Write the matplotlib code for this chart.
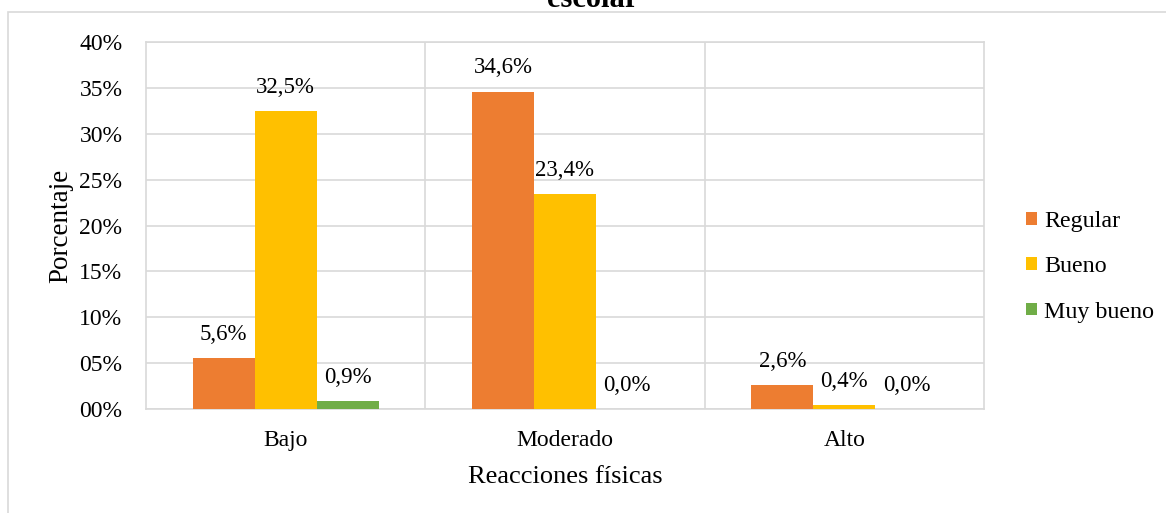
import matplotlib
matplotlib.use("Agg")
import matplotlib.pyplot as plt
from matplotlib.patches import Rectangle
import numpy as np

categories = ["Bajo", "Moderado", "Alto"]
series_names = ["Regular", "Bueno", "Muy bueno"]
regular = [5.6, 34.6, 2.6]
bueno = [32.5, 23.4, 0.4]
muy_bueno = [0.9, 0.0, 0.0]
colors = ["#ED7D31", "#FFC000", "#70AD47"]
ytick_vals = [0, 5, 10, 15, 20, 25, 30, 35, 40]
ytick_labels = ["00%", "05%", "10%", "15%", "20%", "25%", "30%", "35%", "40%"]

plt.rcParams['font.family'] = ['Liberation Serif', 'DejaVu Serif']

W, H = 1166, 513
fig = plt.figure(figsize=(W / 100, H / 100), dpi=100)
fig.patch.set_facecolor("white")

# outer chart border
fig.patches.append(Rectangle((8 / W, -0.1), 1.2, 1 - 12 / H + 0.1, transform=fig.transFigure,
                             fill=False, edgecolor="#d9d9d9", linewidth=1.2))

ax = fig.add_axes([146 / W, 1 - 409 / H, (984 - 146) / W, (409 - 42) / H])
x = np.arange(len(categories))
bw = 2 / 9
data = [regular, bueno, muy_bueno]
for i, (vals, name, c) in enumerate(zip(data, series_names, colors)):
    pos = x + (i - 1) * bw
    ax.bar(pos, vals, width=bw, color=c, label=name, zorder=3)
    for px, v in zip(pos, vals):
        ax.annotate(f"{v:.1f}%".replace(".", ","), (px, v), xytext=(0, 17),
                    textcoords="offset points", ha="center", va="center", fontsize=16.5)

ax.set_xlim(-0.5, 2.5)
ax.set_ylim(0, 40)
ax.set_yticks(ytick_vals)
ax.set_yticklabels(ytick_labels, fontsize=17)
ax.set_xticks(x)
ax.set_xticklabels(categories, fontsize=17)
ax.tick_params(axis="y", length=0, pad=17)
ax.tick_params(axis="x", length=0, pad=15)
ax.grid(axis="y", color="#d9d9d9", linewidth=1.2, zorder=0)
for xv in [0.5, 1.5]:
    ax.axvline(xv, color="#d9d9d9", linewidth=1.2, zorder=0)
for s in ax.spines.values():
    s.set_color("#d9d9d9")
    s.set_linewidth(1.2)

ax.set_ylabel("Porcentaje", fontsize=19.5, labelpad=4)
ax.set_xlabel("Reacciones físicas", fontsize=19, labelpad=11)

leg = fig.legend(loc="center left", bbox_to_anchor=(1026 / W, 1 - 267 / H), frameon=False, fontsize=17.3,
                 handlelength=0.45, handleheight=0.45, handletextpad=0.3, labelspacing=1.0,
                 borderpad=0, borderaxespad=0)

fig.text(593 / W, 1 - 7 / H, "escolar", ha="center", va="baseline", fontsize=22, fontweight="bold")

fig.savefig("out.png", dpi=100)
